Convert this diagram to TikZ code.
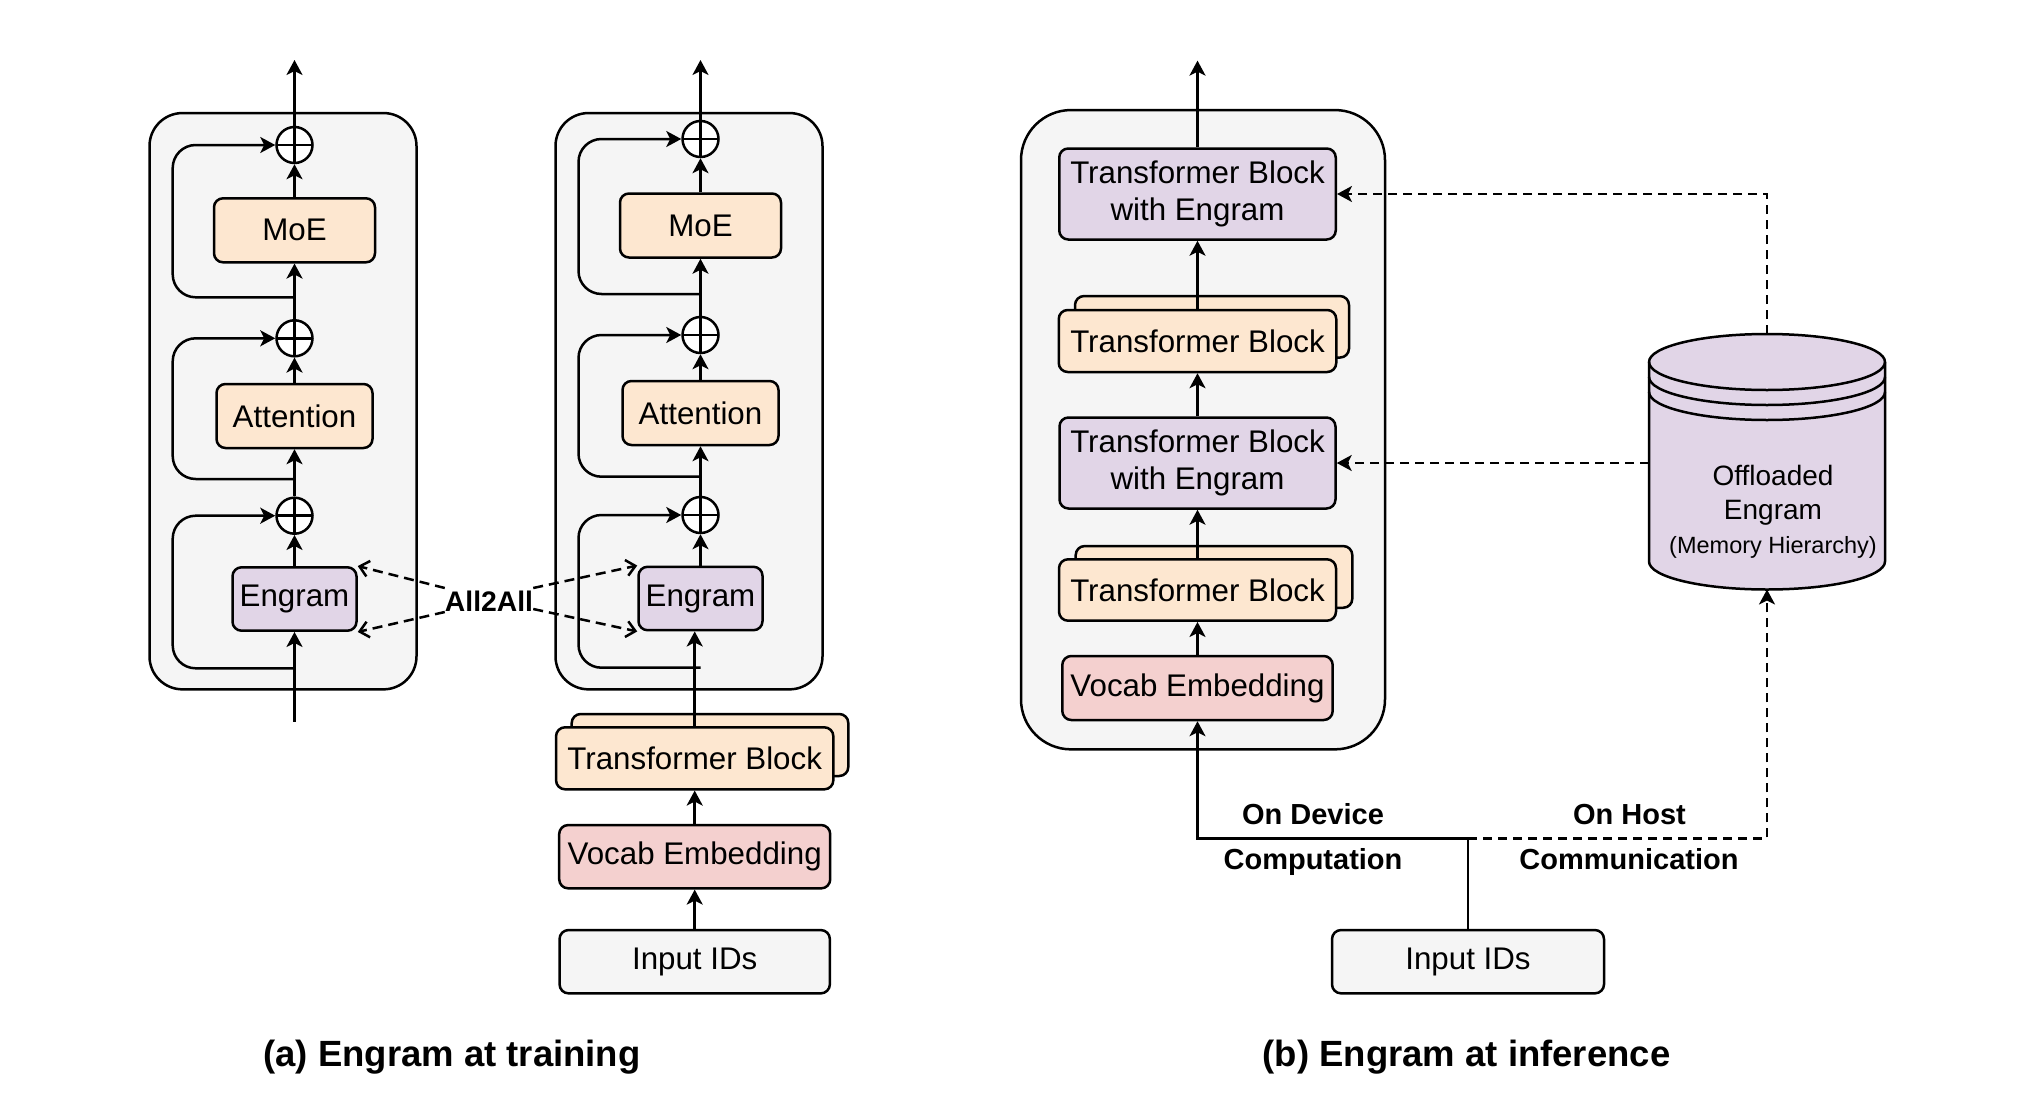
\documentclass[tikz,border=0pt]{standalone}
\usepackage{fontspec}
\setmainfont{Liberation Sans}
\usetikzlibrary{arrows.meta}
\definecolor{orangef}{HTML}{FDE7D0}
\definecolor{purplef}{HTML}{E1D5E7}
\definecolor{pinkf}{HTML}{F4D0CF}
\definecolor{grayf}{HTML}{F5F5F5}
\newcommand\bodyf{\fontsize{31.3}{37.5}\selectfont}
\newcommand\labf{\fontsize{29}{33}\selectfont\bfseries}
\newcommand\aaf{\fontsize{28.3}{32}\selectfont\bfseries}
\newcommand\capf{\fontsize{36.5}{40}\selectfont\bfseries}
\newcommand\cylf{\fontsize{28}{32}\selectfont}
\newcommand\cylsf{\fontsize{23.5}{27}\selectfont}
\begin{document}
\begin{tikzpicture}[x=1pt,y=1pt,
  lw/.style={line width=2.5pt},
  bx/.style 2 args={minimum width=#1pt,minimum height=#2pt},
  blk/.style={draw=black,line width=2.5pt,rounded corners=9pt,inner sep=0pt,font=\bodyf,align=center},
  outerbox/.style={draw=black,line width=2.5pt,fill=grayf,inner sep=0pt},
  plus/.style={circle,draw=black,line width=2.5pt,fill=white,minimum size=36pt,inner sep=0pt,
    path picture={\draw[line width=2.5pt] (path picture bounding box.north) -- (path picture bounding box.south)
      (path picture bounding box.west) -- (path picture bounding box.east);}},
  arr/.style={line width=2.5pt,-{Stealth[length=15pt,width=16pt,inset=4pt]}},
  skip/.style={arr,rounded corners=23pt},
  dasha/.style={line width=2.5pt,dash pattern=on 10pt off 6pt,-{Straight Barb[length=9pt,width=16pt]}},
  dashb/.style={line width=2.5pt,dash pattern=on 9pt off 6pt,-{Stealth[length=15pt,width=16pt,inset=4pt]}},
]
\useasboundingbox (0,0) rectangle (2038,-1116);

% ---------------- panel (a), column 1 ----------------
\node[outerbox,rounded corners=33pt,bx={267}{576.3}] (o1) at (283,-401.2) {};
\node[blk,fill=orangef,bx={161}{64}] (moe1) at (294.5,-230.3) {MoE};
\node[blk,fill=orangef,bx={156}{64}] (att1) at (294.5,-416) {Attention};
\node[blk,fill=purplef,bx={124}{63.4}] (eng1) at (294.5,-599) {Engram};
\node[plus] (p1a) at (294.5,-145) {};
\node[plus] (p1b) at (294.5,-338.3) {};
\node[plus] (p1c) at (294.5,-515.7) {};
\coordinate (in1) at (294.5,-721.7);
\coordinate (out1) at (294.5,-60);
\coordinate (k1a) at (294.5,-297.3);
\coordinate (k1b) at (294.5,-479);
\coordinate (k1c) at (294.5,-668.3);
\draw[arr] (in1) -- (eng1.south);
\draw[arr] (eng1.north) -- (p1c.south);
\draw[arr] (p1c.north) -- (att1.south);
\draw[arr] (att1.north) -- (p1b.south);
\draw[arr] (p1b.north) -- (moe1.south);
\draw[arr] (moe1.north) -- (p1a.south);
\draw[arr] (p1a.north) -- (out1);
\draw[skip] (k1c) -- (172.7,-668.3) -- (172.7,-515.7) -- (p1c.west);
\draw[skip] (k1b) -- (172.7,-479) -- (172.7,-338.3) -- (p1b.west);
\draw[skip] (k1a) -- (172.7,-297.3) -- (172.7,-145) -- (p1a.west);

% ---------------- panel (a), column 2 ----------------
\node[outerbox,rounded corners=33pt,bx={267}{576.3}] (o2) at (689,-401.2) {};
\node[blk,fill=orangef,bx={161}{64}] (moe2) at (700.5,-225.5) {MoE};
\node[blk,fill=orangef,bx={156}{64}] (att2) at (700.5,-413) {Attention};
\node[blk,fill=purplef,bx={124}{63.4}] (eng2) at (700.5,-598.5) {Engram};
\node[plus] (p2a) at (700.5,-139) {};
\node[plus] (p2b) at (700.5,-335) {};
\node[plus] (p2c) at (700.5,-515) {};
\coordinate (out2) at (700.5,-60);
\coordinate (k2a) at (700.5,-294);
\coordinate (k2b) at (700.5,-476.7);
\coordinate (k2c) at (700.5,-667.7);
\node[blk,fill=orangef,bx={276.6}{62}] (tb2b) at (710,-745) {};
\node[blk,fill=orangef,bx={277.3}{62}] (tb2f) at (694.7,-758.3) {Transformer Block};
\node[blk,fill=pinkf,bx={271}{63.3}] (voc2) at (694.7,-856.7) {Vocab Embedding};
\node[blk,fill=grayf,bx={270.3}{63.3}] (inp2) at (694.7,-961.7) {Input IDs};
\draw[arr] (inp2.north) -- (voc2.south);
\draw[arr] (voc2.north) -- (tb2f.south);
\draw[arr] (tb2f.north) -- (tb2f.north |- eng2.south);
\draw[arr] (eng2.north) -- (p2c.south);
\draw[arr] (p2c.north) -- (att2.south);
\draw[arr] (att2.north) -- (p2b.south);
\draw[arr] (p2b.north) -- (moe2.south);
\draw[arr] (moe2.north) -- (p2a.south);
\draw[arr] (p2a.north) -- (out2);
\draw[skip] (k2c) -- (578.5,-667.7) -- (578.5,-515) -- (p2c.west);
\draw[skip] (k2b) -- (578.5,-476.7) -- (578.5,-335) -- (p2b.west);
\draw[skip] (k2a) -- (578.5,-294) -- (578.5,-139) -- (p2a.west);

% All2All
\node[font=\aaf,inner sep=0pt] (a2a) at (489,-601) {All2All};
\draw[dasha] ([yshift=13pt]a2a.west) -- (eng1.north east);
\draw[dasha] ([yshift=-11pt]a2a.west) -- (eng1.south east);
\draw[dasha] ([yshift=13pt]a2a.east) -- (eng2.north west);
\draw[dasha] ([yshift=-8pt]a2a.east) -- (eng2.south west);

\node[font=\capf,anchor=base] (capa) at (452,-1066.7) {(a) Engram at training};

% ---------------- panel (b) ----------------
\node[outerbox,rounded corners=50pt,bx={364}{639.3}] (ob) at (1203,-429.7) {};
\node[blk,fill=purplef,bx={276.5}{91}] (tbe1) at (1197.5,-194) {Transformer Block\\with Engram};
\node[blk,fill=orangef,bx={274}{61.5}] (tb1b) at (1212,-326.8) {};
\node[blk,fill=orangef,bx={277.5}{62}] (tb1f) at (1197.5,-341) {Transformer Block};
\node[blk,fill=purplef,bx={276}{91}] (tbe2) at (1197.5,-463) {Transformer Block\\with Engram};
\node[blk,fill=orangef,bx={276.6}{61.7}] (tb3b) at (1214,-576.9) {};
\node[blk,fill=orangef,bx={277}{61.4}] (tb3f) at (1197.5,-590) {Transformer Block};
\node[blk,fill=pinkf,bx={270.4}{64}] (vocb) at (1197.5,-688) {Vocab Embedding};
\node[blk,fill=grayf,bx={272}{63.3}] (inb) at (1468,-961.7) {Input IDs};
\coordinate (outb) at (1197.5,-60.6);
\coordinate (jct) at (1468,-838.3);
\draw[arr] (vocb.north) -- (tb3f.south);
\draw[arr] (tb3f.north) -- (tbe2.south);
\draw[arr] (tbe2.north) -- (tb1f.south);
\draw[arr] (tb1f.north) -- (tbe1.south);
\draw[arr] (tbe1.north) -- (outb);
\draw[arr] (inb.north) |- (vocb.south |- jct) -- (vocb.south);

% cylinder
\draw[lw,fill=purplef] (1649,-362) -- (1649,-561.5)
  arc[start angle=180,end angle=360,x radius=118pt,y radius=28pt]
  -- (1885,-362) arc[start angle=0,end angle=180,x radius=118pt,y radius=28pt] -- cycle;
\draw[lw] (1649,-362) arc[start angle=180,end angle=360,x radius=118pt,y radius=28pt];
\draw[lw] (1649,-377) arc[start angle=180,end angle=360,x radius=118pt,y radius=28pt];
\draw[lw] (1649,-392) arc[start angle=180,end angle=360,x radius=118pt,y radius=28pt];
\node[font=\cylf,anchor=base] (cyl1) at (1773,-485.7) {Offloaded};
\node[font=\cylf,anchor=base] (cyl2) at (1773,-519) {Engram};
\node[font=\cylsf,anchor=base] (cyl3) at (1773,-553.3) {(Memory Hierarchy)};
\coordinate (cyltop) at (1767,-334);
\coordinate (cylbot) at (1767,-589.5);
\coordinate (cylleft) at (1649,-463);
\draw[dashb] (cyltop) |- (tbe1.east);
\draw[dashb] (cylleft) -- (tbe2.east);
\draw[dashb] (jct) -| (cylbot);

\node[font=\labf,anchor=base] (ond) at (1313,-824) {On Device};
\node[font=\labf,anchor=base] (comp) at (1313,-869.3) {Computation};
\node[font=\labf,anchor=base] (onh) at (1629.5,-824) {On Host};
\node[font=\labf,anchor=base] (comm) at (1629,-869.3) {Communication};

\node[font=\capf,anchor=base] (capb) at (1466.5,-1066.7) {(b) Engram at inference};
\end{tikzpicture}
\end{document}
